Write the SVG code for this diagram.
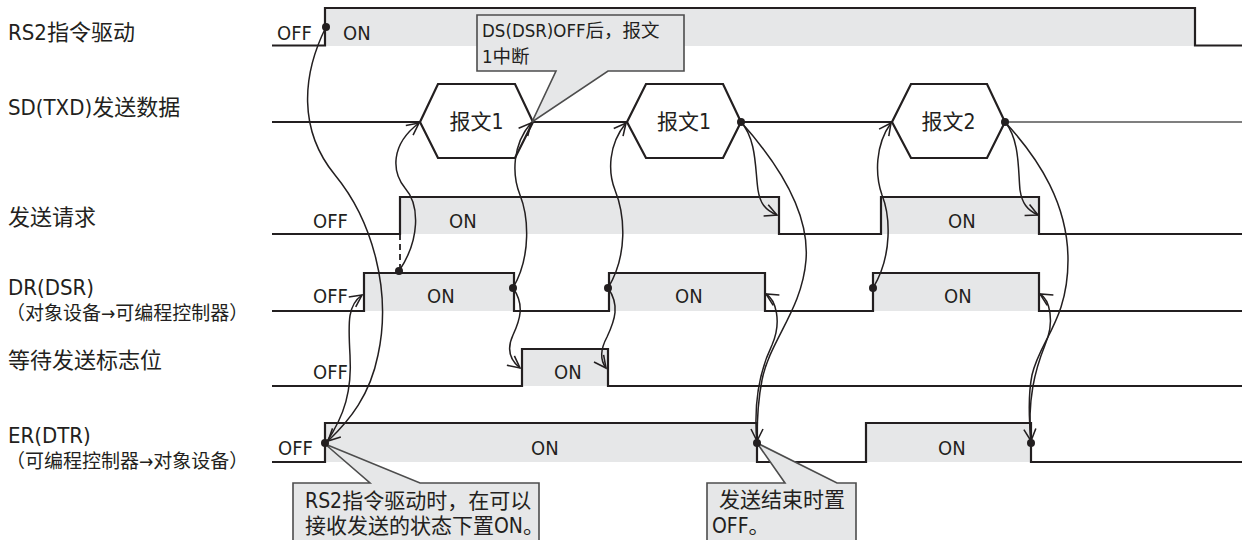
<svg xmlns="http://www.w3.org/2000/svg" width="1242" height="540" viewBox="0 0 1242 540">
<style>
text{font-family:"DejaVu Sans Condensed","DejaVu Sans","Noto Sans CJK SC",sans-serif;font-stretch:condensed;fill:#231f20}
.lbl{font-size:22px}
.sub{font-size:19px}
.st{font-size:20px}
.hx{font-size:21px}
.c1{font-size:18.5px}
.c2{font-size:21px}
.on{fill:#e6e7e8;stroke:none}
.wave{fill:none;stroke:#231f20;stroke-width:2.2}
.hex{fill:#ffffff;stroke:#231f20;stroke-width:2.2}
.call{fill:#e6e7e8;stroke:#4d4d4d;stroke-width:1.6}
.con path{fill:none;stroke:#231f20;stroke-width:1.5;marker-end:url(#ah)}
.dot{fill:#231f20}
</style>
<defs>
<marker id="ah" viewBox="0 0 10 10" refX="10" refY="5" markerWidth="12" markerHeight="12" markerUnits="userSpaceOnUse" orient="auto" overflow="visible">
<path d="M0,0 L10,5 L0,10" fill="none" stroke="#231f20" stroke-width="1.3"/>
</marker>
</defs>

<g id="labels">
<text class="lbl" x="8" y="40">RS2指令驱动</text>
<text class="lbl" x="8" y="115">SD(TXD)发送数据</text>
<text class="lbl" x="8" y="225">发送请求</text>
<text class="lbl" x="8" y="295">DR(DSR)</text>
<text class="sub" x="6" y="320">（对象设备→可编程控制器）</text>
<text class="lbl" x="8" y="368">等待发送标志位</text>
<text class="lbl" x="8" y="443">ER(DTR)</text>
<text class="sub" x="6" y="468">（可编程控制器→对象设备）</text>
</g>

<g id="sig-rs2">
<rect class="on" x="325" y="8" width="870" height="38"/>
<polyline class="wave" points="272,45.5 325,45.5 325,8 1195,8 1195,45.5 1242,45.5"/>
<text class="st" x="277" y="40">OFF</text>
<text class="st" x="343" y="40">ON</text>
</g>

<g id="sig-sd">
<polyline class="wave" points="272,122 420,122"/>
<polyline class="wave" points="533,122 627,122"/>
<polyline class="wave" points="741,122 892,122"/>
<polyline fill="none" stroke="#555" stroke-width="1.6" points="1005,122 1242,122"/>
<g id="msg1"><polygon class="hex" points="420,122 438,84 515,84 533,122 515,158 438,158"/><text class="hx" x="476.5" y="129" text-anchor="middle">报文1</text></g>
<g id="msg1b"><polygon class="hex" points="627,122 646,84 723,84 741,122 723,158 646,158"/><text class="hx" x="684" y="129" text-anchor="middle">报文1</text></g>
<g id="msg2"><polygon class="hex" points="892,122 911,84 987,84 1005,122 987,158 911,158"/><text class="hx" x="948.5" y="129" text-anchor="middle">报文2</text></g>
</g>

<g id="sig-req">
<rect class="on" x="400" y="197" width="379" height="37"/>
<rect class="on" x="881" y="197" width="158" height="37"/>
<polyline class="wave" points="272,234 400,234 400,197 779,197 779,234 881,234 881,197 1039,197 1039,234 1242,234"/>
<line x1="400" y1="234" x2="400" y2="268" stroke="#231f20" stroke-width="1.8" stroke-dasharray="6,4"/>
<text class="st" x="313" y="228">OFF</text>
<text class="st" x="449" y="228">ON</text>
<text class="st" x="948" y="228">ON</text>
</g>

<g id="sig-dr">
<rect class="on" x="364" y="273" width="150" height="38"/>
<rect class="on" x="609" y="273" width="156" height="38"/>
<rect class="on" x="873" y="273" width="166" height="38"/>
<polyline class="wave" points="272,311 364,311 364,273 514,273 514,311 609,311 609,273 765,273 765,311 873,311 873,273 1039,273 1039,311 1242,311"/>
<text class="st" x="313" y="303">OFF</text>
<text class="st" x="427" y="303">ON</text>
<text class="st" x="675" y="303">ON</text>
<text class="st" x="944" y="303">ON</text>
</g>

<g id="sig-wait">
<rect class="on" x="522" y="349" width="86" height="37"/>
<polyline class="wave" points="272,386 522,386 522,349 608,349 608,386 1242,386"/>
<text class="st" x="313" y="379">OFF</text>
<text class="st" x="554" y="379">ON</text>
</g>

<g id="sig-er">
<rect class="on" x="325" y="423" width="432" height="39"/>
<rect class="on" x="866" y="423" width="165" height="39"/>
<polyline class="wave" points="272,462 325,462 325,423 757,423 757,462 866,462 866,423 1031,423 1031,462 1242,462"/>
<text class="st" x="278" y="455">OFF</text>
<text class="st" x="531" y="455">ON</text>
<text class="st" x="938" y="455">ON</text>
</g>

<g id="note1">
<path class="call" d="M477,15 H684 V71 H608 L532,122 L556,71 H477 Z"/>
<text class="c1" x="482" y="37">DS(DSR)OFF后，报文</text>
<text class="c1" x="482" y="63">1中断</text>
</g>
<g id="note2">
<path class="call" d="M293,483 H370 L325,444 L420,483 H539 V546 H293 Z"/>
<text class="c2" x="305" y="508">RS2指令驱动时，在可以</text>
<text class="c2" x="305" y="533">接收发送的状态下置ON。</text>
</g>
<g id="note3">
<path class="call" d="M707,483 H785 L757,443 L837,483 H856 V546 H707 Z"/>
<text class="c2" x="719" y="507">发送结束时置</text>
<text class="c2" x="712" y="533">OFF。</text>
</g>

<g id="connectors" class="con">
<path d="M326,27 C302,75 298,130 335,175 C372,220 392,290 378,355 C370,395 350,420 328,441"/>
<path d="M326,443 C345,415 352,390 350,355 C348,320 348,305 362,295"/>
<path d="M399,271 C420,240 420,205 405,188 C392,172 390,145 419,123"/>
<path d="M513,288 C532,255 528,215 520,195 C512,175 512,145 531,123"/>
<path d="M513,288 C525,305 520,320 513,335 C506,350 510,360 520,368"/>
<path d="M608,288 C620,305 615,320 607,337 C600,350 600,360 606,368"/>
<path d="M608,288 C628,255 625,215 615,190 C608,172 608,145 626,123"/>
<path d="M741,122 C757,140 755,170 758,190 C760,203 765,210 777,215"/>
<path d="M741,122 C775,160 810,210 806,260 C802,310 770,340 762,380 C758,400 757,420 757,441"/>
<path d="M757,443 C753,400 760,370 772,345 C782,322 776,300 766,294"/>
<path d="M873,288 C893,255 890,215 882,195 C875,175 875,145 891,123"/>
<path d="M1005,122 C1020,140 1018,170 1020,190 C1022,203 1027,210 1038,215"/>
<path d="M1005,122 C1040,160 1068,205 1068,260 C1068,320 1040,340 1032,375 C1028,395 1029,420 1031,441"/>
<path d="M1031,443 C1027,400 1035,370 1045,345 C1055,322 1050,300 1040,294"/>
</g>

<g id="dots">
<circle class="dot" cx="326" cy="27" r="4"/>
<circle class="dot" cx="325" cy="443" r="4"/>
<circle class="dot" cx="399" cy="271" r="4"/>
<circle class="dot" cx="513" cy="288" r="4"/>
<circle class="dot" cx="608" cy="288" r="4"/>
<circle class="dot" cx="741" cy="122" r="4"/>
<circle class="dot" cx="757" cy="443" r="4"/>
<circle class="dot" cx="873" cy="288" r="4"/>
<circle class="dot" cx="1005" cy="122" r="4"/>
<circle class="dot" cx="1031" cy="443" r="4"/>
</g>
</svg>
